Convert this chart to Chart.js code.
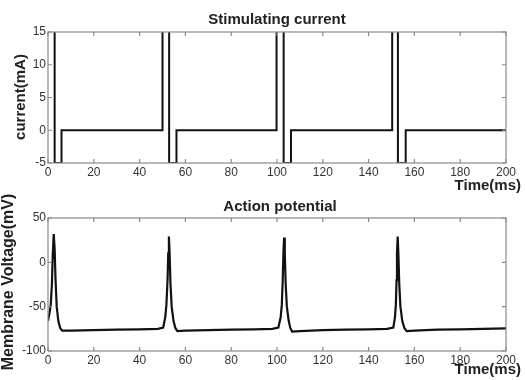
<!DOCTYPE html>
<html>
<head>
<meta charset="utf-8">
<script src="https://cdn.jsdelivr.net/npm/chart.js@4/dist/chart.umd.min.js"></script>
<style>
  html, body { margin: 0; padding: 0; background: #fff; }
  #wrap { position: relative; width: 525px; height: 380px; overflow: hidden; }
  .box { position: absolute; left: 0; width: 525px; height: 200px; }
  #c1box { top: 0; z-index: 2; }
  #c2box { top: 180px; z-index: 1; }
</style>
</head>
<body>
<div id="wrap">
  <div class="box" id="c2box"><canvas id="c2" width="525" height="200"></canvas></div>
  <div class="box" id="c1box"><canvas id="c1" width="525" height="200"></canvas></div>
</div>
<script>
// ---- data ----
const timeTicks = [0, 20, 40, 60, 80, 100, 120, 140, 160, 180, 200];
const currentTicks = [-5, 0, 5, 10, 15];
const voltageTicks = [-100, -50, 0, 50];

const currentTime   = [0, 2.9, 2.9, 5.9, 5.9, 50.0, 50.0, 52.9, 52.9, 56.1, 56.1, 99.8, 99.8, 102.9, 102.9, 106.1, 106.1, 150.3, 150.3, 152.8, 152.8, 156.2, 156.2, 200];
const currentValues = [40, 40, -5, -5, 0, 0, 40, 40, -5, -5, 0, 0, 40, 40, -5, -5, 0, 0, 40, 40, -5, -5, 0, 0];

const voltageTime = [
  0, 0.6, 1.2, 1.7, 2.1, 2.5, 2.9, 3.3, 3.8, 4.5, 5.3, 6.2, 10, 20, 30, 40, 48, 50.3,
  51.2, 51.7, 52.2, 52.5, 52.8, 53.1, 53.5, 54.0, 54.8, 55.6, 56.5, 60, 70, 80, 90, 98, 100.6,
  101.6, 102.1, 102.5, 102.8, 103.1, 103.4, 103.8, 104.3, 105.1, 105.8, 106.6, 110, 120, 130, 140, 148, 150.8,
  151.5, 151.9, 152.2, 152.4, 152.7, 153.0, 153.4, 153.9, 154.7, 155.6, 156.6, 160, 170, 180, 190, 200
];
const voltageValues = [
  -66, -58, -48, -25, 10, 32, 15, -20, -50, -66, -74, -77, -77, -76.5, -76, -75.5, -75, -73.5,
  -62, -48, -20, 10, 29, 10, -25, -50, -66, -74, -77.5, -77, -76.5, -76, -75.5, -75, -73.5,
  -62, -48, -20, 10, 28, 10, -25, -50, -66, -74, -78, -77.5, -76.5, -76, -75.5, -75, -73.5,
  -62, -48, -20, 10, 29, 10, -25, -50, -66, -74, -77.5, -77, -76, -75.5, -75, -74.5
];

const xyPairs = (xs, ys) => xs.map((x, i) => ({ x: x, y: ys[i] }));

const FONT = '"Liberation Sans", Arial, sans-serif';

function framePlugin(cfg) {
  return {
    id: 'frame_' + cfg.id,
    afterDraw(chart) {
      const ctx = chart.ctx;
      const a = chart.chartArea;
      const xs = chart.scales.x, ys = chart.scales.y;
      ctx.save();
      ctx.strokeStyle = '#8a8a8a';
      ctx.lineWidth = 1.2;
      ctx.strokeRect(a.left, a.top, a.right - a.left, a.bottom - a.top);
      const tl = 4;
      ctx.beginPath();
      timeTicks.forEach(v => {
        const px = xs.getPixelForValue(v);
        ctx.moveTo(px, a.bottom); ctx.lineTo(px, a.bottom - tl);
        ctx.moveTo(px, a.top); ctx.lineTo(px, a.top + tl);
      });
      cfg.yTicks.forEach(v => {
        const py = ys.getPixelForValue(v);
        ctx.moveTo(a.left, py); ctx.lineTo(a.left + tl, py);
        ctx.moveTo(a.right, py); ctx.lineTo(a.right - tl, py);
      });
      ctx.stroke();
      // titles
      ctx.fillStyle = '#222';
      ctx.textBaseline = 'middle';
      ctx.textAlign = 'center';
      ctx.font = 'bold 15px ' + FONT;
      ctx.fillText(cfg.title, (a.left + a.right) / 2 + cfg.titleDx, cfg.titleY);
      ctx.textAlign = 'right';
      ctx.font = 'bold 15px ' + FONT;
      ctx.fillText('Time(ms)', 521, cfg.xTitleY);
      ctx.translate(cfg.yTitleX, cfg.yTitleY);
      ctx.rotate(-Math.PI / 2);
      ctx.textAlign = 'center';
      ctx.font = 'bold ' + cfg.yTitleSize + 'px ' + FONT;
      ctx.fillText(cfg.yTitle, 0, 0);
      ctx.restore();
    }
  };
}

function makeChart(canvasId, cfg) {
  return new Chart(document.getElementById(canvasId), {
    type: 'line',
    data: {
      datasets: [{
        data: xyPairs(cfg.xs, cfg.ys),
        borderColor: '#111',
        borderWidth: cfg.lineWidth,
        pointRadius: 0,
        tension: 0,
        fill: false
      }]
    },
    options: {
      responsive: false,
      animation: false,
      events: [],
      layout: { padding: { left: 0, right: 19, top: cfg.padTop, bottom: 0 } },
      plugins: { legend: { display: false }, tooltip: { enabled: false }, title: { display: false } },
      scales: {
        x: {
          type: 'linear', min: 0, max: 200,
          afterBuildTicks: s => { s.ticks = timeTicks.map(v => ({ value: v })); },
          afterFit: s => { s.height = cfg.xHeight; },
          grid: { display: false, drawTicks: false },
          border: { display: false },
          ticks: { color: '#333', font: { family: FONT, size: 12 }, padding: 2, maxRotation: 0, autoSkip: false }
        },
        y: {
          type: 'linear', min: cfg.yMin, max: cfg.yMax,
          afterBuildTicks: s => { s.ticks = cfg.yTicks.map(v => ({ value: v })); },
          afterFit: s => { s.width = 48; },
          grid: { display: false, drawTicks: false },
          border: { display: false },
          ticks: { color: '#333', font: { family: FONT, size: 12 }, padding: 2 }
        }
      }
    },
    plugins: [framePlugin(cfg)]
  });
}

makeChart('c1', {
  id: 'top', xs: currentTime, ys: currentValues, yMin: -5, yMax: 15, yTicks: currentTicks,
  padTop: 32, xHeight: 37, lineWidth: 2,
  title: 'Stimulating current', titleDx: 0, titleY: 20, xTitleY: 186,
  yTitle: 'current(mA)', yTitleX: 21, yTitleY: 97, yTitleSize: 15
});

makeChart('c2', {
  id: 'bottom', xs: voltageTime, ys: voltageValues, yMin: -100, yMax: 50, yTicks: voltageTicks,
  padTop: 38, xHeight: 29, lineWidth: 2.2,
  title: 'Action potential', titleDx: 3, titleY: 27, xTitleY: 190,
  yTitle: 'Membrane Voltage(mV)', yTitleX: 9, yTitleY: 102, yTitleSize: 16
});
</script>
</body>
</html>
